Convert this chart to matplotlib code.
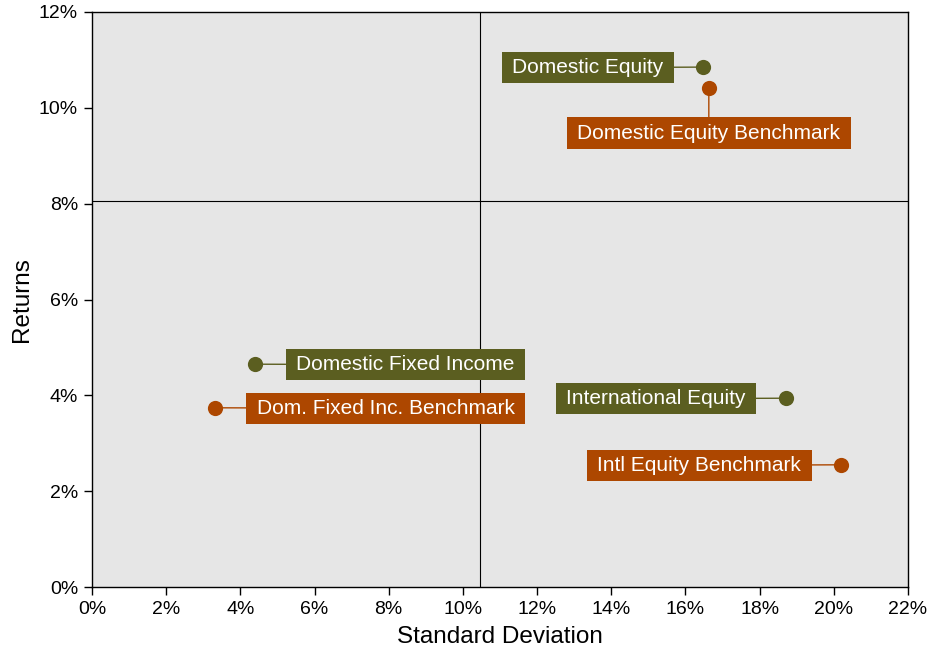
import matplotlib
matplotlib.use("Agg")
import matplotlib.pyplot as plt
from matplotlib.path import Path
from matplotlib.ticker import FuncFormatter

plt.rcParams['font.family'] = ['Liberation Sans', 'DejaVu Sans']

names = ["Domestic Equity", "Domestic Equity Benchmark", "Domestic Fixed Income",
         "Dom. Fixed Inc. Benchmark", "International Equity", "Intl Equity Benchmark"]
std_dev = [16.47, 16.63, 4.39, 3.32, 18.71, 20.19]
returns = [10.85, 10.41, 4.65, 3.74, 3.94, 2.55]
kinds = ["fund", "bench", "fund", "bench", "fund", "bench"]
x_ticks = [0, 2, 4, 6, 8, 10, 12, 14, 16, 18, 20, 22]
y_ticks = [0, 2, 4, 6, 8, 10, 12]
median_x = 10.46
median_y = 8.06

colors = {"fund": "#5b5e20", "bench": "#ad4700"}
# label offsets in pixels (center of label relative to point)
offsets = [(-115, -0.5), (0, -45), (150.5, -0.5), (170.5, -0.5), (-130, -0.5), (-141.5, -0.5)]


def rect_box(x0, y0, width, height, mutation_size):
    px = 0.5 * mutation_size
    py = 0.3 * mutation_size
    x0, y0 = x0 - px, y0 - py
    x1, y1 = x0 + width + 2 * px, y0 + height + 2 * py
    return Path([(x0, y0), (x1, y0), (x1, y1), (x0, y1), (x0, y0)], closed=True)


fig = plt.figure(figsize=(9.28, 6.5), dpi=100)
ax = fig.add_axes([92/928, 1-587/650, (908-92)/928, (587-12)/650])
ax.set_facecolor("#e6e6e6")
ax.set_xlim(0, 22)
ax.set_ylim(0, 12)
ax.set_xticks(x_ticks)
ax.set_yticks(y_ticks)
ax.xaxis.set_major_formatter(FuncFormatter(lambda v, p: f"{v:.0f}%"))
ax.yaxis.set_major_formatter(FuncFormatter(lambda v, p: f"{v:.0f}%"))
ax.tick_params(direction='out', length=6, width=1, labelsize=14, colors='black', pad=4)
for s in ax.spines.values():
    s.set_color('black')
    s.set_linewidth(1)

ax.axvline(median_x, color='black', lw=0.8, zorder=1)
ax.axhline(median_y, color='black', lw=0.8, zorder=1)

for n, x, y, k, (dx, dy) in zip(names, std_dev, returns, kinds, offsets):
    c = colors[k]
    ax.scatter([x], [y], s=120, color=c, zorder=4, linewidths=0)
    ax.annotate(n, xy=(x, y), xytext=(dx, dy), textcoords='offset pixels',
                ha='center', va='center', fontsize=15, color='white', zorder=3,
                bbox=dict(boxstyle=rect_box, fc=c, ec='none'),
                arrowprops=dict(arrowstyle='-', color=c, lw=1, shrinkA=0, shrinkB=0))

ax.set_xlabel("Standard Deviation", fontsize=17.5, labelpad=6)
ax.set_ylabel("Returns", fontsize=17.5, labelpad=4)

fig.savefig("out.png", dpi=100)
